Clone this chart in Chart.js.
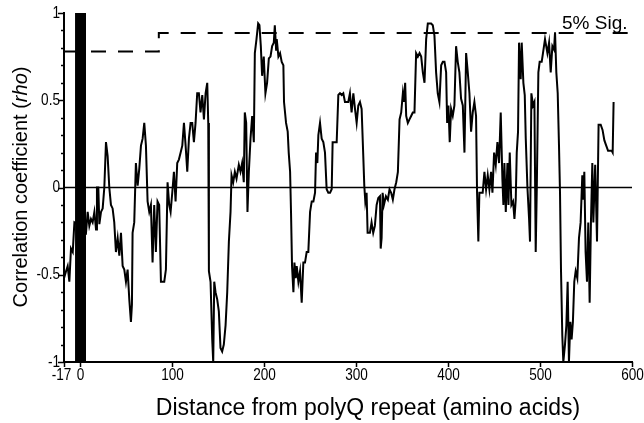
<!DOCTYPE html>
<html>
<head>
<meta charset="utf-8">
<script src="https://cdn.jsdelivr.net/npm/chart.js@4/dist/chart.umd.min.js"></script>
<style>
html, body { margin: 0; padding: 0; background: #fff; }
#wrap { width: 644px; height: 423px; }
</style>
</head>
<body>
<div id="wrap"><canvas id="chart" width="644" height="423"></canvas></div>
<script>
// 데이터
const positions = [
  -17, -14.8, -13, -11.2, -9.4, -7.5, -5.7, 0, 6.9, 8.7, 10.5, 12.3, 14.1, 16, 17.8, 18.8, 20.3, 21.4, 23.2, 25,
  26.8, 28.6, 30.4, 32.2, 34, 35.8, 37.6, 39.4, 41.3, 43.1, 44.9, 46.7, 48.5, 50.3, 52.1, 53.9, 55.7, 56.8, 57.5, 59.3,
  61.1, 63, 64.8, 66.6, 68.4, 70.2, 72, 73.8, 75.6, 77.4, 79.2, 81, 82.8, 84.6, 86.4, 88.3, 91.9, 93.7, 95.5, 97.3,
  98.8, 100.6, 102.4, 104.2, 106, 107.8, 109.7, 111.5, 113.3, 115.1, 116.9, 118.7, 120.5, 122.3, 124.1, 125.9, 127.7, 129.5, 131.3, 133.2,
  135, 136.8, 138.6, 139.7, 140.4, 142.2, 144, 145.1, 146.2, 147.6, 149.4, 151.2, 153, 154.8, 156.6, 158.5, 160.3, 162.1, 163.9, 165,
  166.8, 168.6, 170.4, 172.9, 174.7, 176.5, 178.3, 179.4, 180.9, 182.3, 183.8, 185.6, 187.4, 189.2, 190.3, 192.1, 193.9, 195.3, 196.8, 198.2,
  200, 201.8, 203.6, 205.5, 207.3, 209.1, 210.9, 212, 213.4, 214.1, 215.9, 217.7, 219.5, 221.3, 222, 224.2, 226, 227.1, 228.6, 229.6,
  230.7, 232.2, 233.3, 234.7, 235.8, 237.6, 239.4, 241.2, 243, 244.8, 246.6, 248.4, 250.3, 252.1, 253.9, 255.7, 256.8, 258.2, 259.3, 261.1,
  262.9, 264.7, 266.5, 268.3, 270.1, 272, 273.8, 274.8, 277.4, 279.2, 281, 282.8, 284.6, 286.4, 288.2, 290, 291.8, 293.6, 295.4, 297.3,
  299.1, 300.9, 302.7, 304.5, 306.3, 308.1, 309.2, 310.3, 311.7, 312.8, 315.3, 317.1, 318.9, 320.7, 322.6, 324.4, 326.2, 327, 328, 329.1,
  330.5, 332.7, 334.8, 336.6, 338.4, 340.2, 342, 343.9, 345.7, 347.5, 349.3, 351.1, 352.2, 353.6, 354.7, 356.5, 358.3, 360.1, 361.9, 363.7,
  365.5, 367.4, 369.2, 371, 372.8, 374.6, 376.4, 378.2, 380, 381.8, 383.6, 385.4, 387.2, 389, 390.8, 392.7, 394.5, 396.3, 398.1, 399.2,
  400.6, 402, 403.5, 405.3, 407.1, 408.9, 410.7, 412.5, 414.3, 416.2, 418, 419.8, 421.6, 423.4, 425.2, 427, 428.8, 430.6, 431.7, 433.1,
  434.2, 436, 437.8, 439.7, 441.5, 443.3, 445.1, 446.9, 448.4, 450.2, 452, 453.8, 455.6, 457.4, 459.2, 460.3, 461.4, 462.9, 464.7, 465.8,
  467.2, 469, 470.8, 472.3, 473.7, 474.8, 476.2, 477.3, 479.1, 480.2, 482, 483.5, 484.6, 486.4, 488.2, 489.2, 490.7, 492.5, 494, 495.4,
  496.5, 498.3, 499.7, 501.9, 503.3, 505.5, 508.1, 509.9, 511.7, 513.5, 515.3, 516.4, 517.8, 519.3, 520.7, 521.8, 522.9, 524.3, 525.4, 527.2,
  528.7, 530.1, 531.5, 533, 534.4, 535.8, 537.3, 538.8, 540.6, 542.4, 544.2, 546, 547.1, 548.2, 549.6, 551.1, 552.5, 554, 555.4, 556.9,
  558, 560, 562, 563.7, 566, 568, 570, 572, 574, 576, 578, 579, 580
];
const rhoValues = [
  -0.52, -0.48, -0.45, -0.54, -0.35, -0.37, -0.20, -0.22, -0.26, -0.14, -0.22, -0.18, -0.20, -0.14, -0.24, 0.0, 0.0, -0.21, -0.14, -0.12,
  0.0, 0.26, 0.18, 0.0, -0.10, -0.12, -0.20, -0.37, -0.29, -0.39, -0.26, -0.45, -0.47, -0.54, -0.47, -0.64, -0.77, -0.67, -0.26, -0.20,
  0.14, 0.01, 0.11, 0.24, 0.28, 0.37, 0.24, -0.08, -0.14, -0.10, -0.43, -0.10, -0.37, -0.08, -0.10, -0.54, -0.54, -0.47, 0.03, -0.10,
  -0.14, -0.03, 0.09, -0.08, 0.14, 0.16, 0.20, 0.24, 0.37, 0.24, 0.09, 0.28, 0.37, 0.37, 0.26, 0.37, 0.54, 0.54, 0.43, 0.53,
  0.39, 0.54, 0.60, 0.37, -0.48, -0.54, -0.87, -1.0, -0.54, -0.60, -0.64, -0.71, -0.92, -0.94, -0.90, -0.79, -0.60, -0.31, -0.14, 0.07,
  0.03, 0.09, 0.05, 0.13, 0.09, 0.14, 0.03, 0.43, 0.37, -0.14, 0.09, 0.28, 0.41, 0.26, 0.77, 0.85, 0.94, 0.93, 0.81, 0.64,
  0.75, 0.54, 0.60, 0.74, 0.75, 0.81, 0.83, 0.93, 0.79, 0.85, 0.75, 0.77, 0.72, 0.70, 0.49, 0.37, 0.32, 0.20, 0.09, -0.14,
  -0.45, -0.60, -0.43, -0.52, -0.45, -0.54, -0.48, -0.66, -0.43, -0.43, -0.37, -0.37, -0.14, -0.08, -0.08, -0.03, 0.20, 0.14, 0.30, 0.37,
  0.28, 0.26, 0.20, -0.01, -0.03, -0.03, -0.01, 0.26, 0.26, 0.26, 0.53, 0.54, 0.53, 0.54, 0.49, 0.49, 0.49, 0.54, 0.43, 0.54,
  0.45, 0.37, 0.47, 0.49, 0.45, 0.18, 0.01, -0.08, -0.03, -0.26, -0.26, -0.20, -0.26, -0.22, -0.10, -0.06, -0.05, -0.35, -0.29, -0.03,
  -0.10, -0.05, -0.07, -0.01, -0.03, -0.07, -0.01, 0.03, 0.09, 0.39, 0.43, 0.54, 0.49, 0.60, 0.41, 0.37, 0.39, 0.41, 0.43, 0.43,
  0.77, 0.75, 0.77, 0.75, 0.66, 0.60, 0.85, 0.94, 0.94, 0.94, 0.93, 0.87, 0.66, 0.54, 0.49, 0.70, 0.72, 0.72, 0.66, 0.37,
  0.47, 0.26, 0.45, 0.41, 0.47, 0.81, 0.72, 0.66, 0.51, 0.47, 0.20, 0.77, 0.66, 0.54, 0.32, 0.43, 0.49, 0.41, -0.03, -0.31,
  -0.03, -0.03, -0.03, 0.09, -0.01, 0.07, -0.01, 0.09, -0.03, 0.20, 0.13, 0.26, 0.14, 0.43, 0.05, -0.10, 0.14, -0.14, 0.14, -0.10,
  0.20, -0.10, -0.08, -0.18, -0.07, 0.20, 0.32, 0.83, 0.62, 0.83, 0.60, 0.53, 0.28, 0.0, -0.18, -0.31, 0.54, 0.47, 0.49, -0.37,
  -0.03, 0.66, 0.72, 0.72, 0.77, 0.85, 0.77, 0.83, 0.66, 0.81, 0.79, 0.89, 0.66, 0.54, 0.24, -0.03, -0.48, -0.85, -1.0, -0.90,
  -0.79, -0.54, -1.0, -0.77, -0.87, -0.77, -0.54, -0.48, -0.52, -0.29, -0.20, 0.07, -0.07, 0.09, -0.37, -0.54, -0.20, -0.66, -0.20, 0.14,
  -0.20, 0.13, -0.31, 0.36, 0.36, 0.33, 0.27, 0.24, 0.21, 0.21, 0.21, 0.20, 0.49
];

// 5% 유의수준 기준선
const sigX = [-17, 86, 86, 600];
const sigY = [0.78, 0.78, 0.885, 0.885];

// polyQ 반복 구간 (검은 막대)
const polyQStart = -5;
const polyQEnd = 7;

// 축 눈금
const xTicks = [-17, 0, 100, 200, 300, 400, 500, 600];
const yTicks = [-1, -0.5, 0, 0.5, 1];
const yTickLabels = ['-1', '-0.5', '0', '0.5', '1'];

const FONT = '"Liberation Sans", Arial, sans-serif';

// 눈금 라벨 (좁은 글꼴 흉내: 가로 0.8배)
function drawNarrow(ctx, text, x, y, align) {
    ctx.save();
    ctx.translate(x, y);
    ctx.scale(0.8, 1);
    ctx.textAlign = align;
    ctx.fillText(text, 0, 0);
    ctx.restore();
}

// 축 눈금, 제목, 텍스트
const textPlugin = {
    id: 'texts',
    afterDraw(chart) {
        const ctx = chart.ctx;
        const xs = chart.scales.x;
        const ys = chart.scales.y;
        const area = chart.chartArea;
        ctx.save();
        ctx.fillStyle = '#000';
        ctx.strokeStyle = '#000';
        ctx.lineWidth = 1.5;

        // x축 눈금
        ctx.font = '17px ' + FONT;
        ctx.textBaseline = 'top';
        xTicks.forEach(v => {
            const px = Math.round(xs.getPixelForValue(v)) + 0.5;
            ctx.beginPath();
            ctx.moveTo(px, area.bottom);
            ctx.lineTo(px, area.bottom + 5);
            ctx.stroke();
            drawNarrow(ctx, String(v), px + (v === -17 ? -3 : 0), area.bottom + 5, 'center');
        });

        // y축 눈금 (0.1 간격, 0.5마다 라벨)
        for (let k = -10; k <= 10; k++) {
            const py = Math.round(ys.getPixelForValue(k / 10)) + 0.5;
            const len = k % 5 === 0 ? 6 : 3;
            ctx.beginPath();
            ctx.moveTo(area.left - len, py);
            ctx.lineTo(area.left, py);
            ctx.stroke();
        }
        ctx.textBaseline = 'middle';
        yTicks.forEach((v, i) => {
            drawNarrow(ctx, yTickLabels[i], area.left - 4, ys.getPixelForValue(v), 'right');
        });

        // y축 제목 (rho 이탤릭)
        const parts = [
            { t: 'Correlation coefficient (', f: '20px ' + FONT },
            { t: 'rho', f: 'italic 20px ' + FONT },
            { t: ')', f: '20px ' + FONT }
        ];
        let total = 0;
        parts.forEach(p => { ctx.font = p.f; p.w = ctx.measureText(p.t).width; total += p.w; });
        ctx.save();
        ctx.translate(21, 187);
        ctx.rotate(-Math.PI / 2);
        ctx.textBaseline = 'middle';
        ctx.textAlign = 'left';
        let x = -total / 2;
        parts.forEach(p => { ctx.font = p.f; ctx.fillText(p.t, x, 0); x += p.w; });
        ctx.restore();

        // x축 제목
        ctx.font = '23px ' + FONT;
        ctx.textAlign = 'center';
        ctx.textBaseline = 'middle';
        ctx.fillText('Distance from polyQ repeat (amino acids)', 368, 409);

        // 5% Sig.
        ctx.font = '19px ' + FONT;
        ctx.textAlign = 'left';
        ctx.textBaseline = 'alphabetic';
        ctx.fillText('5% Sig.', 562, 29);
        ctx.restore();
    }
};

const ctx = document.getElementById('chart');

new Chart(ctx, {
    type: 'line',
    data: {
        datasets: [
            {
                label: 'polyQ',
                data: [{ x: polyQStart, y: 1 }, { x: polyQEnd, y: 1 }],
                borderWidth: 0,
                borderColor: '#000',
                backgroundColor: '#000',
                fill: { value: -1 },
                pointRadius: 0,
                order: 0
            },
            {
                label: 'rho',
                data: positions.map((p, i) => ({ x: p, y: rhoValues[i] })),
                borderColor: '#000',
                borderWidth: 2,
                pointRadius: 0,
                tension: 0,
                fill: false,
                order: 1
            },
            {
                label: 'zero',
                data: [{ x: -17, y: 0 }, { x: 600, y: 0 }],
                borderColor: '#000',
                borderWidth: 1.5,
                pointRadius: 0,
                fill: false,
                order: 2
            },
            {
                label: '5% Sig.',
                data: sigX.map((v, i) => ({ x: v, y: sigY[i] })),
                borderColor: '#000',
                borderWidth: 2,
                borderDash: [15, 12],
                pointRadius: 0,
                fill: false,
                order: 3
            }
        ]
    },
    options: {
        responsive: false,
        animation: false,
        layout: { padding: { left: 0, right: 12, top: 13, bottom: 0 } },
        plugins: {
            legend: { display: false },
            tooltip: { enabled: false }
        },
        scales: {
            x: {
                type: 'linear',
                min: -17,
                max: 600,
                afterBuildTicks: axis => { axis.ticks = xTicks.map(v => ({ value: v })); },
                afterFit: scale => { scale.height = 61; },
                ticks: { display: false },
                grid: { display: false },
                border: { color: '#000', width: 2 }
            },
            y: {
                type: 'linear',
                min: -1,
                max: 1,
                afterBuildTicks: axis => { axis.ticks = yTicks.map(v => ({ value: v })); },
                afterFit: scale => { scale.width = 64; },
                ticks: { display: false },
                grid: { display: false },
                border: { color: '#000', width: 2 }
            }
        }
    },
    plugins: [textPlugin]
});
</script>
</body>
</html>
